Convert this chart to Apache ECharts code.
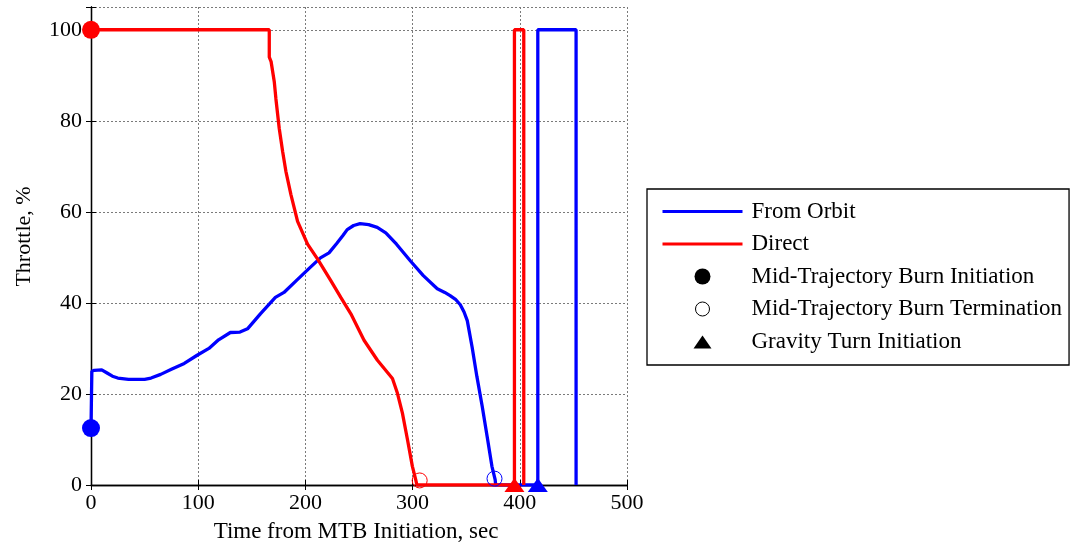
<!DOCTYPE html>
<html>
<head>
<meta charset="utf-8">
<script src="https://cdn.jsdelivr.net/npm/echarts@6/dist/echarts.min.js"></script>
<style>
  html, body { margin: 0; padding: 0; background: #fff; }
  #chart { width: 1073px; height: 548px; }
</style>
</head>
<body>
<div id="chart"></div>
<script>
// ---- data ----
const xTicks = [0, 100, 200, 300, 400, 500];
const yTicks = [0, 20, 40, 60, 80, 100];

const orbitT = [0, 0.8, 3, 10, 15, 20, 25, 35, 50, 56, 65, 75, 87, 99, 110, 119, 130, 139, 146, 158, 172, 180, 192, 204, 214, 222, 229, 235, 239, 245, 251, 259, 267, 275, 285, 298, 310, 323, 330, 335, 340, 344.5, 348, 351, 355.5, 360, 365, 369.5, 374, 377, 377.5, 416.8, 416.8, 452.5, 452.5];
const orbitThrottle = [12.5, 25, 25.2, 25.3, 24.6, 23.9, 23.5, 23.2, 23.2, 23.5, 24.3, 25.4, 26.7, 28.5, 30, 31.9, 33.5, 33.6, 34.3, 37.6, 41.2, 42.3, 45, 47.7, 49.9, 51, 53, 54.8, 56.1, 57, 57.4, 57.2, 56.6, 55.4, 52.9, 49.2, 46, 43.1, 42.3, 41.6, 40.8, 39.6, 38, 36.1, 30.3, 23.8, 17.2, 10.7, 4.1, 1.2, 0, 0, 100, 100, 0];

const directT = [0, 166.3, 166.3, 168, 171, 172.5, 175.6, 178.8, 181.8, 186.5, 192.7, 202, 211.4, 223.7, 233, 242.4, 254.7, 267.2, 281.2, 285.8, 290.5, 295.2, 299.8, 302.9, 304, 395, 395, 403.7, 403.7];
const directThrottle = [100, 100, 94, 93, 88.5, 84.8, 78.3, 73.2, 68.9, 63.8, 57.9, 52.9, 49.6, 44.9, 41.2, 37.6, 31.8, 27.4, 23.4, 20.2, 15.8, 10, 4.1, 1.2, 0, 0, 100, 100, 0];

// markers: [time, throttle] for [From Orbit, Direct]
const burnInitiation = [[0, 12.5], [0, 100]];
const burnTermination = [[376.4, 1.4], [306.6, 1.0]];
const gravityTurn = [[416.8, 0], [395, 0]];

const seriesNames = ['From Orbit', 'Direct', 'Mid-Trajectory Burn Initiation', 'Mid-Trajectory Burn Termination', 'Gravity Turn Initiation'];
const seriesColors = ['#0000ff', '#ff0000'];

// ---- chart ----
const FONT = 'Liberation Serif';
const zip = (a, b) => a.map((v, i) => [v, b[i]]);
const colored = (pts) => pts.map((p, i) => ({ value: p, itemStyle: { color: seriesColors[i], opacity: 1 } }));
const coloredOpen = (pts) => pts.map((p, i) => ({ value: p, itemStyle: { color: 'rgba(0,0,0,0)', borderColor: seriesColors[i], borderWidth: 1, opacity: 1 } }));

const chart = echarts.init(document.getElementById('chart'), null, { renderer: 'canvas' });

const baseAxisLine = { show: true, lineStyle: { color: '#000', width: 1.3 } };
const tick = { show: true, inside: true, length: 5, lineStyle: { color: '#000', width: 1 } };
const grid = { show: true, lineStyle: { color: '#7a7a7a', width: 1, type: [2, 2] } };

const option = {
  animation: false,
  backgroundColor: '#fff',
  grid: { left: 91, right: 446, top: 7, bottom: 62, containLabel: false },
  xAxis: [{
    type: 'value', min: xTicks[0], max: xTicks[xTicks.length - 1], interval: 100,
    position: 'bottom',
    name: 'Time from MTB Initiation, sec', nameLocation: 'middle', nameGap: 35,
    nameTextStyle: { fontFamily: FONT, fontSize: 23, color: '#000', padding: [0, 6, 0, 0] },
    axisLine: baseAxisLine, axisTick: tick, splitLine: grid,
    axisLabel: { fontFamily: FONT, fontSize: 22, color: '#000', margin: 7 }
  }, {
    type: 'value', min: xTicks[0], max: xTicks[xTicks.length - 1], interval: 100,
    position: 'top', axisLine: baseAxisLine, axisTick: tick, splitLine: { show: false }, axisLabel: { show: false }
  }],
  yAxis: [{
    type: 'value', min: yTicks[0], max: 105, interval: 20,
    position: 'left',
    name: 'Throttle, %', nameLocation: 'middle', nameGap: 56,
    nameTextStyle: { fontFamily: FONT, fontSize: 22, color: '#000', padding: [0, 0, 0, 19] },
    axisLine: baseAxisLine, axisTick: tick, splitLine: grid,
    axisLabel: { fontFamily: FONT, fontSize: 22, color: '#000', margin: 9,
      formatter: v => (yTicks.indexOf(v) >= 0 ? String(v) : '') }
  }, {
    type: 'value', min: yTicks[0], max: 105, interval: 20,
    position: 'right', axisLine: baseAxisLine, axisTick: tick, splitLine: { show: false }, axisLabel: { show: false }
  }],
  legend: {
    orient: 'vertical', left: 647, top: 189,
    padding: [11, 7, 12, 15], itemGap: 9.5,
    itemWidth: 80, itemHeight: 16,
    borderColor: '#000', borderWidth: 1.3, backgroundColor: '#fff',
    selectedMode: false,
    textStyle: { fontFamily: FONT, fontSize: 23, color: '#000', lineHeight: 16, padding: [0, 0, 0, 4] },
    itemStyle: { borderWidth: 0, opacity: 1 },
    data: [
      { name: seriesNames[0], icon: 'path://M0,0M80,16M0,6.5L80,6.5L80,9.5L0,9.5Z', itemStyle: { color: seriesColors[0], borderWidth: 0, opacity: 1 } },
      { name: seriesNames[1], icon: 'path://M0,0M80,16M0,6.5L80,6.5L80,9.5L0,9.5Z', itemStyle: { color: seriesColors[1], borderWidth: 0, opacity: 1 } },
      { name: seriesNames[2], icon: 'path://M0,0M80,16M32,8A8,8,0,1,1,48,8A8,8,0,1,1,32,8Z', itemStyle: { color: '#000', borderWidth: 0, opacity: 1 } },
      { name: seriesNames[3], icon: 'path://M0,0M80,16M33,8A7,7,0,1,1,47,8A7,7,0,1,1,33,8Z', itemStyle: { color: 'rgba(0,0,0,0)', borderColor: '#000', borderWidth: 1, opacity: 1 } },
      { name: seriesNames[4], icon: 'path://M0,0M80,16M40,2L49,15L31,15Z', itemStyle: { color: '#000', borderWidth: 0, opacity: 1 } }
    ]
  },
  series: [
    { name: seriesNames[0], type: 'line', data: zip(orbitT, orbitThrottle), symbol: 'none', showSymbol: false,
      lineStyle: { color: seriesColors[0], width: 3.3 }, itemStyle: { color: seriesColors[0] }, z: 3 },
    { name: seriesNames[1], type: 'line', data: zip(directT, directThrottle), symbol: 'none', showSymbol: false,
      lineStyle: { color: seriesColors[1], width: 3.3 }, itemStyle: { color: seriesColors[1] }, z: 4 },
    { name: seriesNames[2], type: 'scatter', data: colored(burnInitiation), symbol: 'circle', symbolSize: 18,
      itemStyle: { color: '#000', opacity: 1 }, clip: false, z: 6 },
    { name: seriesNames[3], type: 'scatter', data: coloredOpen(burnTermination), symbol: 'circle', symbolSize: 15,
      itemStyle: { color: '#000', opacity: 1 }, clip: false, z: 6 },
    { name: seriesNames[4], type: 'scatter', data: colored(gravityTurn), symbol: 'triangle', symbolSize: [20, 14],
      itemStyle: { color: '#000', opacity: 1 }, clip: false, z: 6 }
  ]
};
chart.setOption(option);
</script>
</body>
</html>
